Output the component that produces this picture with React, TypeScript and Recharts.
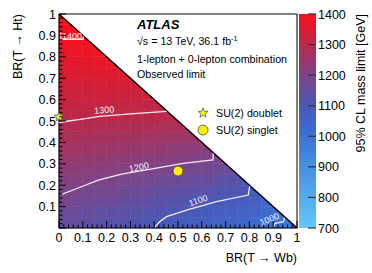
import React from 'react';
import { ScatterChart, Scatter, XAxis, YAxis, ReferenceArea, ReferenceLine } from 'recharts';

const W = 372;
const H = 273;
const FONT = '"Liberation Sans", Arial, Helvetica, sans-serif';

// 95% CL mass limit [GeV], one row per BR(T->Ht) bin of 0.05 (from 0 upward),
// cells per row run from BR(T->Wb)=0 up to the diagonal
const CELL = 0.05;
const massRows: number[][] = [
  [1160, 1152, 1145, 1137, 1130, 1124, 1118, 1110, 1102, 1094, 1085, 1075, 1065, 1056, 1048, 1039, 1028, 1008, 995, 980],
  [1170, 1164, 1157, 1151, 1145, 1139, 1132, 1126, 1120, 1111, 1103, 1094, 1085, 1076, 1068, 1059, 1050, 1030, 1010],
  [1185, 1180, 1175, 1170, 1165, 1158, 1150, 1143, 1135, 1128, 1120, 1113, 1105, 1096, 1088, 1079, 1070, 1058],
  [1203, 1198, 1192, 1187, 1182, 1175, 1168, 1162, 1155, 1149, 1143, 1136, 1130, 1121, 1112, 1104, 1095],
  [1215, 1211, 1207, 1202, 1198, 1192, 1187, 1181, 1175, 1170, 1165, 1160, 1155, 1145, 1135, 1125],
  [1230, 1226, 1222, 1219, 1215, 1211, 1206, 1202, 1198, 1194, 1189, 1185, 1180, 1172, 1165],
  [1245, 1241, 1238, 1234, 1230, 1227, 1224, 1221, 1218, 1214, 1210, 1206, 1202, 1197],
  [1260, 1257, 1254, 1251, 1248, 1245, 1243, 1240, 1238, 1233, 1229, 1224, 1220],
  [1275, 1272, 1270, 1267, 1265, 1263, 1261, 1260, 1258, 1254, 1250, 1246],
  [1292, 1290, 1288, 1285, 1283, 1282, 1281, 1279, 1278, 1275, 1272],
  [1305, 1304, 1303, 1303, 1302, 1301, 1300, 1299, 1297, 1295],
  [1317, 1317, 1316, 1316, 1315, 1314, 1313, 1311, 1310],
  [1328, 1328, 1329, 1329, 1330, 1328, 1326, 1324],
  [1340, 1341, 1342, 1343, 1345, 1343, 1340],
  [1352, 1354, 1356, 1358, 1360, 1358],
  [1364, 1366, 1368, 1370, 1372],
  [1377, 1380, 1382, 1384],
  [1390, 1393, 1396],
  [1402, 1405],
  [1410],
];

// contour lines (BR(T->Wb), BR(T->Ht))
const contour1400 = [{ x: 0.008, y: 0.913 }, { x: 0.008, y: 0.882 }, { x: 0.102, y: 0.882 }, { x: 0.102, y: 0.896 }];
const contour1300 = [{ x: 0, y: 0.492 }, { x: 0.04, y: 0.5 }, { x: 0.09, y: 0.508 }, { x: 0.17, y: 0.522 }, { x: 0.3, y: 0.533 }, { x: 0.452, y: 0.545 }];
const contour1200 = [{ x: 0.011, y: 0.157 }, { x: 0.067, y: 0.181 }, { x: 0.165, y: 0.224 }, { x: 0.263, y: 0.252 }, { x: 0.403, y: 0.279 }, { x: 0.522, y: 0.302 }, { x: 0.647, y: 0.318 }, { x: 0.648, y: 0.348 }];
const contour1100 = [{ x: 0.403, y: 0.004 }, { x: 0.424, y: 0.03 }, { x: 0.452, y: 0.053 }, { x: 0.536, y: 0.084 }, { x: 0.662, y: 0.123 }, { x: 0.795, y: 0.154 }, { x: 0.801, y: 0.195 }];
const contour1000 = [{ x: 0.9, y: 0.004 }, { x: 0.908, y: 0.022 }, { x: 0.943, y: 0.03 }, { x: 0.948, y: 0.048 }];
const contourLabels = [
  { x: 0.055, y: 0.897, text: '1400', angle: 0 },
  { x: 0.19, y: 0.551, text: '1300', angle: -5 },
  { x: 0.336, y: 0.284, text: '1200', angle: -12 },
  { x: 0.585, y: 0.128, text: '1100', angle: -18 },
  { x: 0.884, y: 0.041, text: '1000', angle: -22 },
];

// benchmark points
const doubletPoint = [{ x: 0, y: 0.52 }];
const singletPoint = [{ x: 0.5, y: 0.266 }];

// axes
const MINOR_TICKS = [
  0, 0.02, 0.04, 0.06, 0.08, 0.1, 0.12, 0.14, 0.16, 0.18, 0.2, 0.22, 0.24, 0.26, 0.28, 0.3, 0.32, 0.34, 0.36, 0.38,
  0.4, 0.42, 0.44, 0.46, 0.48, 0.5, 0.52, 0.54, 0.56, 0.58, 0.6, 0.62, 0.64, 0.66, 0.68, 0.7, 0.72, 0.74, 0.76, 0.78,
  0.8, 0.82, 0.84, 0.86, 0.88, 0.9, 0.92, 0.94, 0.96, 0.98, 1,
];
const COLORBAR_TICKS = [700, 800, 900, 1000, 1100, 1200, 1300, 1400];

// palette of the z axis
const STOP_VALUES = [700, 800, 900, 1000, 1100, 1200, 1300, 1400];
const STOP_COLORS = ['#62c8fa', '#54acee', '#4690e2', '#3a72d6', '#4858b8', '#7c4488', '#bb2848', '#f8101c'];

function hexToRgb(h: string) {
  return [parseInt(h.slice(1, 3), 16), parseInt(h.slice(3, 5), 16), parseInt(h.slice(5, 7), 16)];
}

function massColor(v: number) {
  const c = Math.max(STOP_VALUES[0], Math.min(STOP_VALUES[STOP_VALUES.length - 1], v));
  let k = 0;
  while (k < STOP_VALUES.length - 2 && c > STOP_VALUES[k + 1]) k++;
  const t = (c - STOP_VALUES[k]) / (STOP_VALUES[k + 1] - STOP_VALUES[k]);
  const a = hexToRgb(STOP_COLORS[k]);
  const b = hexToRgb(STOP_COLORS[k + 1]);
  const rgb = a.map((av, i) => Math.round(av + (b[i] - av) * t));
  return `rgb(${rgb[0]},${rgb[1]},${rgb[2]})`;
}

const isMajor = (v: number) => Math.abs(v * 10 - Math.round(v * 10)) < 1e-6;
const fmt = (v: number) => (v === 0 ? '0' : v === 1 ? '1' : v.toFixed(1));

function BottomTick({ x, y, payload }: any) {
  const major = isMajor(payload.value);
  return (
    <g>
      <line x1={x} y1={y} x2={x} y2={y - (major ? 7 : 3.5)} stroke="#000" />
      {major && (
        <text x={x} y={y + 14} textAnchor="middle" fontSize={12.5} fontFamily={FONT} fill="#000">
          {fmt(payload.value)}
        </text>
      )}
    </g>
  );
}

function TopTick({ x, y, payload }: any) {
  const major = isMajor(payload.value);
  return <line x1={x} y1={y} x2={x} y2={y + (major ? 7 : 3.5)} stroke="#000" />;
}

function LeftTick({ x, y, payload }: any) {
  const major = isMajor(payload.value);
  return (
    <g>
      <line x1={x} y1={y} x2={x + (major ? 7 : 3.5)} y2={y} stroke="#000" />
      {major && payload.value !== 0 && (
        <text x={x - 3} y={y + 4.5} textAnchor="end" fontSize={12.5} fontFamily={FONT} fill="#000">
          {fmt(payload.value)}
        </text>
      )}
    </g>
  );
}

function RightTick({ x, y, payload }: any) {
  const major = isMajor(payload.value);
  return <line x1={x} y1={y} x2={x - (major ? 7 : 3.5)} y2={y} stroke="#000" />;
}

function ColorbarTick({ x, y, payload }: any) {
  return (
    <g>
      <line x1={x} y1={y} x2={x - 8} y2={y} stroke="#333" strokeWidth={1.2} />
      <text x={x + 2} y={y + 4.5} textAnchor="start" fontSize={12.5} fontFamily={FONT} fill="#000">
        {payload.value}
      </text>
    </g>
  );
}

function StarShape({ cx, cy }: any) {
  const pts: string[] = [];
  for (let k = 0; k < 10; k++) {
    const r = k % 2 === 0 ? 5.2 : 2.2;
    const a = -Math.PI / 2 + (k * Math.PI) / 5;
    pts.push(`${cx + r * Math.cos(a)},${cy + r * Math.sin(a)}`);
  }
  return <polygon points={pts.join(' ')} fill="#ffff00" stroke="#555" strokeWidth={0.8} />;
}

function CircleShape({ cx, cy }: any) {
  return <circle cx={cx} cy={cy} r={5} fill="#ffee00" stroke="#444" strokeWidth={0.8} />;
}

function ContourLabel({ cx, cy, payload }: any) {
  return (
    <text
      x={cx}
      y={cy}
      dy={3}
      textAnchor="middle"
      fontSize={9}
      fontFamily={FONT}
      fill="#f6eef4"
      transform={`rotate(${payload.angle} ${cx} ${cy})`}
    >
      {payload.text}
    </text>
  );
}

// colorbar strip: bottom and top of the z range
const colorbarRange = [{ x: 0.5, v: 700 }, { x: 0.5, v: 1400 }];

const noShape = () => <g />;
const contourLine = { stroke: '#f4ecf2', strokeWidth: 1.3 };

export default function App() {
  const cells: React.ReactNode[] = [];
  massRows.forEach((row, j) => {
    row.forEach((v, i) => {
      const color = massColor(v);
      const onDiagonal = i + j === massRows.length - 1;
      cells.push(
        <ReferenceArea
          key={`c-${j}-${i}`}
          xAxisId="b"
          yAxisId="l"
          x1={i * CELL}
          x2={(i + 1) * CELL}
          y1={j * CELL}
          y2={(j + 1) * CELL}
          fill={color}
          fillOpacity={1}
          stroke={color}
          strokeWidth={0.6}
          shape={
            onDiagonal
              ? (p: any) => (
                  <polygon
                    points={`${p.x},${p.y} ${p.x},${p.y + p.height} ${p.x + p.width},${p.y + p.height}`}
                    fill={color}
                    stroke={color}
                    strokeWidth={0.3}
                  />
                )
              : undefined
          }
        />
      );
    });
  });

  return (
    <div style={{ position: 'absolute', left: 0, top: 0, width: W, height: H, background: '#fff' }}>
      <svg width={0} height={0} style={{ position: 'absolute' }}>
        <defs>
          <linearGradient id="zGrad" x1="0" y1="1" x2="0" y2="0">
            {STOP_VALUES.map((v, k) => (
              <stop key={v} offset={(v - 700) / 700} stopColor={STOP_COLORS[k]} />
            ))}
          </linearGradient>
        </defs>
      </svg>
      <div style={{ position: 'absolute', left: 0, top: 0 }}>
        <ScatterChart width={W} height={H} margin={{ top: 13, right: 74, bottom: 0, left: 0 }}>
          <XAxis xAxisId="b" type="number" dataKey="x" domain={[0, 1]} ticks={MINOR_TICKS} interval={0} height={45}
            tickSize={0} tickMargin={0} tickLine={false} axisLine={{ stroke: '#000' }} tick={(p: any) => <BottomTick {...p} />} />
          <XAxis xAxisId="t" orientation="top" type="number" dataKey="x" domain={[0, 1]} ticks={MINOR_TICKS} interval={0} height={1}
            tickSize={0} tickMargin={0} tickLine={false} axisLine={{ stroke: '#000' }} tick={(p: any) => <TopTick {...p} />} />
          <YAxis yAxisId="l" type="number" dataKey="y" domain={[0, 1]} ticks={MINOR_TICKS} interval={0} width={59}
            tickSize={0} tickMargin={0} tickLine={false} axisLine={{ stroke: '#000' }} tick={(p: any) => <LeftTick {...p} />} />
          <YAxis yAxisId="r" orientation="right" type="number" dataKey="y" domain={[0, 1]} ticks={MINOR_TICKS} interval={0} width={1}
            tickSize={0} tickMargin={0} tickLine={false} axisLine={{ stroke: '#000' }} tick={(p: any) => <RightTick {...p} />} />
          {cells}
          <ReferenceLine xAxisId="b" yAxisId="l" segment={[{ x: 0, y: 1 }, { x: 1, y: 0 }]} stroke="#000" strokeWidth={1.5} />
          <Scatter xAxisId="b" yAxisId="l" data={contour1400} line={contourLine} shape={noShape} isAnimationActive={false} />
          <Scatter xAxisId="b" yAxisId="l" data={contour1300} line={contourLine} shape={noShape} isAnimationActive={false} />
          <Scatter xAxisId="b" yAxisId="l" data={contour1200} line={contourLine} shape={noShape} isAnimationActive={false} />
          <Scatter xAxisId="b" yAxisId="l" data={contour1100} line={contourLine} shape={noShape} isAnimationActive={false} />
          <Scatter xAxisId="b" yAxisId="l" data={contour1000} line={contourLine} shape={noShape} isAnimationActive={false} />
          <Scatter xAxisId="b" yAxisId="l" data={contourLabels} shape={(p: any) => <ContourLabel {...p} />} isAnimationActive={false} />
          <Scatter xAxisId="b" yAxisId="l" data={singletPoint} shape={(p: any) => <CircleShape {...p} />} isAnimationActive={false} />
          <Scatter xAxisId="b" yAxisId="l" data={doubletPoint} shape={(p: any) => <StarShape {...p} />} isAnimationActive={false} />
        </ScatterChart>
      </div>
      <div style={{ position: 'absolute', left: 0, top: 0 }}>
        <ScatterChart width={W} height={H} margin={{ top: 14, right: 55, bottom: 45, left: 299 }}>
          <XAxis xAxisId="cx" type="number" dataKey="x" domain={[0, 1]} hide />
          <YAxis yAxisId="cy" orientation="right" type="number" dataKey="v" domain={[700, 1400]} ticks={COLORBAR_TICKS} interval={0}
            width={1} tickSize={0} tickMargin={0} tickLine={false} axisLine={false} tick={(p: any) => <ColorbarTick {...p} />} />
          <ReferenceArea xAxisId="cx" yAxisId="cy" x1={0} x2={1} y1={700} y2={1400} fill="url(#zGrad)" fillOpacity={1} />
          <Scatter xAxisId="cx" yAxisId="cy" data={colorbarRange} shape={noShape} isAnimationActive={false} />
        </ScatterChart>
      </div>
      <svg width={W} height={H} style={{ position: 'absolute', left: 0, top: 0, pointerEvents: 'none' }}>
        <g fontFamily={FONT} fill="#000">
          <text x={137} y={29} fontSize={13} fontWeight="bold" fontStyle="italic">ATLAS</text>
          <text x={137} y={45} fontSize={10.7}>
            √s = 13 TeV, 36.1 fb<tspan dy={-4} fontSize={7.5}>-1</tspan>
          </text>
          <text x={137} y={63} fontSize={10.7}>1-lepton + 0-lepton combination</text>
          <text x={137} y={78} fontSize={10.7}>Observed limit</text>
          <StarShape cx={203} cy={113} />
          <text x={216} y={117} fontSize={10.7}>SU(2) doublet</text>
          <CircleShape cx={203} cy={130} />
          <text x={216} y={134} fontSize={10.7}>SU(2) singlet</text>
          <text x={297} y={262} fontSize={12.5} textAnchor="end">BR(T → Wb)</text>
          <text x={22} y={14} fontSize={12.5} textAnchor="end" transform="rotate(-90 22 14)">BR(T → Ht)</text>
          <text x={365} y={14} fontSize={12.5} textAnchor="end" transform="rotate(-90 365 14)">95% CL mass limit [GeV]</text>
        </g>
      </svg>
    </div>
  );
}
